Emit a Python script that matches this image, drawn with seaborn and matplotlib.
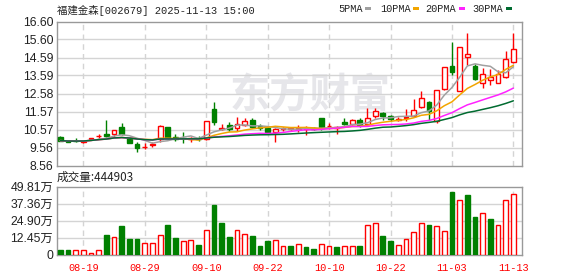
import numpy as np
import pandas as pd
import matplotlib
matplotlib.use("Agg")
import matplotlib.pyplot as plt
from matplotlib.patches import Rectangle
import seaborn as sns

# ---------------- data ----------------
title_text = "福建金森[002679] 2025-11-13 15:00"
volume_label = "成交量:444903"
dates = [d.strftime("%m-%d") for d in pd.bdate_range("2025-08-14", "2025-11-13")
         if not (pd.Timestamp("2025-10-01") <= d <= pd.Timestamp("2025-10-08"))]

opens = [10.17, 9.95, 9.95, 9.88, 10.02, 10.20, 10.32, 10.34, 10.70, 10.10,
         9.76, 9.60, 9.70, 10.02, 10.70, 10.13, 10.10, 10.05, 10.10, 10.02,
         11.71, 10.60, 10.82, 10.64, 10.82, 11.12, 10.78, 10.64, 10.45, 10.60,
         10.60, 10.60, 10.60, 10.65, 11.19, 10.74, 10.64, 11.01, 10.86, 11.10,
         10.86, 11.34, 11.51, 11.32, 11.12, 11.24, 11.34, 11.85, 12.10, 11.03,
         12.83, 14.12, 12.72, 14.60, 14.12, 13.15, 13.33, 13.19, 13.48, 14.32]
highs = [10.20, 9.97, 10.11, 9.96, 10.11, 10.30, 11.10, 10.56, 10.91, 10.12,
         9.89, 9.80, 9.85, 10.82, 10.72, 10.30, 10.45, 10.15, 10.20, 11.02,
         12.12, 10.86, 10.97, 11.25, 11.19, 11.19, 10.86, 10.67, 10.64, 10.72,
         10.72, 10.82, 10.75, 10.70, 11.20, 10.92, 10.78, 11.19, 11.15, 11.19,
         11.75, 11.75, 11.56, 11.40, 11.28, 11.70, 12.27, 12.72, 12.15, 12.78,
         14.06, 15.47, 15.18, 15.94, 14.20, 13.98, 13.93, 13.90, 14.95, 15.94]
lows = [9.93, 9.88, 9.86, 9.80, 10.00, 10.12, 10.17, 10.15, 10.26, 9.80,
        9.30, 9.50, 9.58, 9.90, 10.05, 9.93, 9.80, 9.88, 9.95, 9.98,
        10.82, 10.55, 10.49, 10.49, 10.74, 10.67, 10.55, 10.30, 9.90, 10.49,
        10.55, 10.45, 10.26, 10.55, 10.55, 10.60, 10.30, 10.82, 10.82, 10.73,
        10.82, 11.19, 11.10, 11.06, 11.05, 11.02, 11.25, 11.75, 11.10, 10.95,
        12.80, 13.61, 12.70, 14.17, 13.33, 12.87, 13.05, 13.15, 13.45, 14.28]
closes = [9.95, 9.90, 9.92, 9.94, 10.09, 10.23, 10.22, 10.54, 10.30, 9.83,
          9.52, 9.62, 9.76, 10.74, 10.08, 10.05, 10.08, 10.10, 10.02, 11.02,
          10.97, 10.63, 10.60, 10.86, 11.04, 10.73, 10.64, 10.41, 10.60, 10.66,
          10.63, 10.65, 10.64, 10.60, 10.67, 10.78, 10.73, 10.90, 11.10, 10.82,
          11.19, 11.62, 11.34, 11.14, 11.18, 11.26, 11.66, 12.31, 11.62, 12.78,
          14.06, 13.80, 15.18, 14.77, 13.37, 13.65, 13.52, 13.65, 14.49, 15.05]
prev_close = 10.05
volumes = [3.1, 3.1, 3.1, 3.1, 1.4, 3.1, 14.6, 13.2, 21.1, 11.7,
           11.7, 8.1, 8.1, 14.6, 21.8, 12.4, 9.6, 10.3, 6.7, 18.0,
           36.1, 23.2, 13.2, 18.0, 15.3, 13.9, 6.0, 9.6, 10.8, 6.0,
           6.1, 8.0, 5.4, 4.0, 8.0, 5.9, 5.4, 6.6, 6.6, 6.1,
           21.7, 23.1, 13.3, 9.7, 7.3, 11.6, 16.2, 23.1, 21.9, 20.9,
           16.9, 45.6, 40.3, 43.5, 27.7, 30.3, 26.2, 21.9, 40.3, 44.49]
price_ticks = [8.56, 9.56, 10.57, 11.57, 12.58, 13.59, 14.59, 15.60, 16.60]
vol_ticks = [0, 12.45, 24.90, 37.36, 49.81]
vol_tick_labels = ["0", "12.45万", "24.90万", "37.36万", "49.81万"]
x_tick_labels = ["08-19", "08-29", "09-10", "09-22", "10-10", "10-22", "11-03", "11-13"]
ma_windows = [5, 10, 20, 30]
ma_names = ["5PMA", "10PMA", "20PMA", "30PMA"]

# ---------------- style ----------------
RED = "#ff0000"
GREEN = "#008000"
ma_colors = ["#a0a0a0", "#f2a500", "#ff22ff", "#006b30"]
GRID = "#d4d4d4"
BORDER = "#999999"
TXT = "#222222"

sns.set_theme(style="white")
plt.rcParams["font.family"] = ["Liberation Sans", "Noto Sans CJK SC", "DejaVu Sans"]

W, H = 578, 276
fig = plt.figure(figsize=(W / 100, H / 100), dpi=100)
fig.patch.set_facecolor("white")

def fx(px):
    return px / W

def fy(py):
    return 1 - py / H

L, R = 56.7, 522.3
ax = fig.add_axes([fx(L), fy(165.5), fx(R - L), (165.5 - 21.5) / H])
axv = fig.add_axes([fx(L), fy(254.5), fx(R - L), (254.5 - 186.7) / H])

n = len(closes)
idx = np.arange(n)
xlim = (-0.47, n - 1 + 1.16)

df = pd.DataFrame({"i": idx, "open": opens, "high": highs, "low": lows,
                   "close": closes, "vol": volumes})

# watermark
ax.text(0.545, 0.48, "东方财富", transform=ax.transAxes, ha="center", va="center",
        fontsize=29, fontweight="bold", color="#e6e6ea", zorder=0,
        family=["Noto Sans CJK SC"])

# candles
bw = 0.62
for _, r in df.iterrows():
    o, c, h, l = r["open"], r["close"], r["high"], r["low"]
    up = c >= o
    col = RED if up else GREEN
    lo_b, hi_b = min(o, c), max(o, c)
    ax.vlines(r["i"], hi_b, h, color=col, linewidth=1, zorder=3)
    ax.vlines(r["i"], l, lo_b, color=col, linewidth=1, zorder=3)
    ax.bar(r["i"], max(hi_b - lo_b, 0.001), bottom=lo_b, width=bw,
           facecolor="white" if up else GREEN, edgecolor=col, linewidth=1, zorder=4)

# moving averages
for w, colr in zip(ma_windows, ma_colors):
    ma = df["close"].rolling(w, min_periods=1).mean()
    sns.lineplot(x=df["i"], y=ma, ax=ax, color=colr, linewidth=1.1, zorder=5)

# volume bars (colour by change vs previous close)
prevs = [prev_close] + closes[:-1]
for i, (v, c, p) in enumerate(zip(volumes, closes, prevs)):
    up = c >= p
    axv.bar(i, v, width=bw, facecolor="white" if up else GREEN,
            edgecolor=RED if up else GREEN, linewidth=1, zorder=3)

# axes formatting
tick_pos = [dates.index(t) for t in x_tick_labels]
for a in (ax, axv):
    a.set_xlim(*xlim)
    a.set_xlabel("")
    a.set_ylabel("")
    a.set_facecolor("white")
    for s in a.spines.values():
        s.set_color(BORDER)
        s.set_linewidth(1)
    for t in tick_pos:
        a.axvline(t, color=GRID, linestyle=(0, (4, 3)), linewidth=1, zorder=1)
    a.tick_params(axis="both", length=0, pad=2.5, labelsize=8.8, labelcolor=TXT)
    a.grid(False)

ax.set_ylim(8.56, 16.60)
ax.set_yticks(price_ticks)
ax.set_yticklabels([f"{v:.2f}" for v in price_ticks])
for v in price_ticks[1:-1]:
    ax.axhline(v, color=GRID, linewidth=1, zorder=1)
ax.set_xticks([])

axv.set_ylim(0, 49.81)
axv.set_yticks(vol_ticks)
axv.set_yticklabels(vol_tick_labels)
for v in vol_ticks[1:-1]:
    axv.axhline(v, color=GRID, linewidth=1, zorder=1)
axv.set_xticks(tick_pos)
axv.set_xticklabels(x_tick_labels, color=RED, fontsize=7.4,
                    family=["Liberation Mono"])
axv.tick_params(axis="x", pad=6)

# title + legend + volume label
fig.text(fx(57), fy(10), title_text, ha="left", va="center", fontsize=7.5,
         color=TXT, family=["Liberation Mono", "Noto Sans CJK SC"])
fig.text(fx(57), fy(177.5), volume_label, ha="left", va="center", fontsize=8.4,
         color=TXT, family=["Noto Sans CJK SC", "Liberation Sans"])

leg_x = [338, 380, 425, 472]
sq_x = [365, 413, 459, 506]
for name, colr, tx, sx in zip(ma_names, ma_colors, leg_x, sq_x):
    fig.text(fx(tx), fy(9.5), name, ha="left", va="center", fontsize=7.4,
             color=TXT, family=["Liberation Mono"])
    fig.add_artist(Rectangle((fx(sx), fy(10.3)), fx(6), 3 / H,
                             transform=fig.transFigure, facecolor=colr,
                             edgecolor="none"))

fig.savefig("out.png", dpi=100, facecolor="white")
